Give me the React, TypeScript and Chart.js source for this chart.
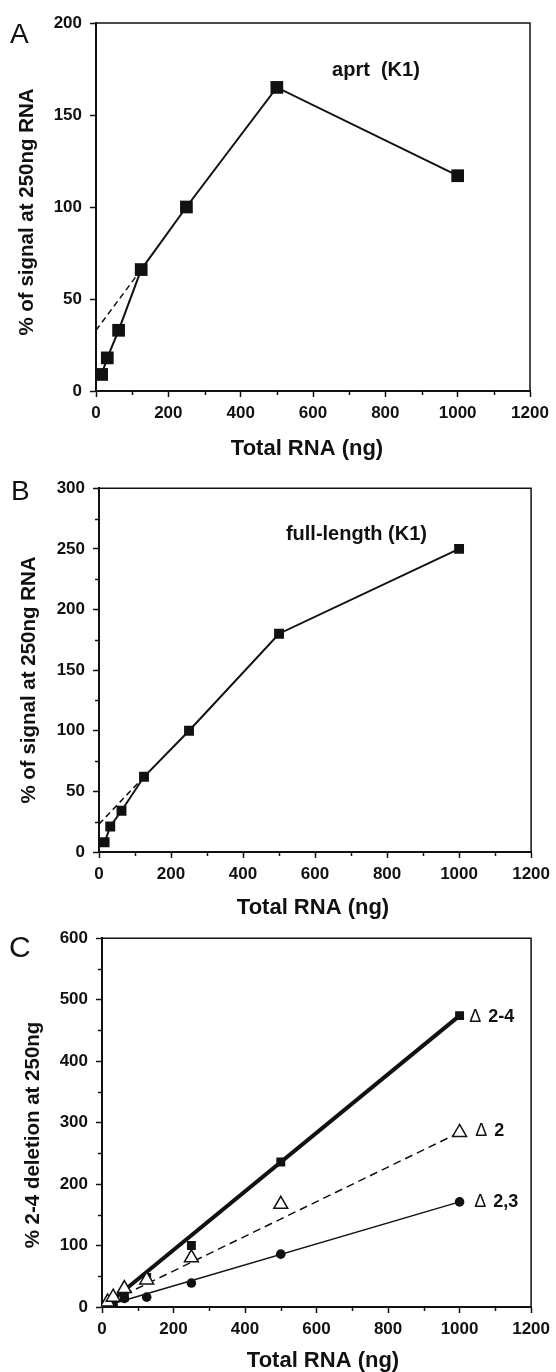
import React, { useEffect, useRef } from 'react';
import { Chart, registerables } from 'chart.js';

Chart.register(...registerables);

// ---------- data ----------
const rnaNg = [15.625, 31.25, 62.5, 125, 250, 500, 1000];

const aprtSignal = [9, 18, 33, 66, 100, 165, 117];
const aprtExtrapX = [0, 125];
const aprtExtrapY = [33, 66];

const fullSignal = [8, 21, 34, 62, 100, 180, 250];
const fullExtrapX = [0, 125];
const fullExtrapY = [23, 62];

const del24 = [4, 5, 16, 48, 100, 236, 474];
const del2 = [8, 16, 30, 44, 80, 167, 284];
const del23 = [3, 1, 14, 16, 39, 86, 171];
const fit24X = [15.625, 1000];
const fit24Y = [5, 474];
const fit2X = [62.5, 1000];
const fit2Y = [20, 284];
const fit23X = [15.625, 1000];
const fit23Y = [3, 171];

const xTickValues = [0, 100, 200, 300, 400, 500, 600, 700, 800, 900, 1000, 1100, 1200];
const xTickLabels = [0, 200, 400, 600, 800, 1000, 1200];
const yTicksA = [0, 50, 100, 150, 200];
const yLabelsA = [0, 50, 100, 150, 200];
const yTicksB = [0, 25, 50, 75, 100, 125, 150, 175, 200, 225, 250, 275, 300];
const yLabelsB = [0, 50, 100, 150, 200, 250, 300];
const yTicksC = [0, 50, 100, 150, 200, 250, 300, 350, 400, 450, 500, 550, 600];
const yLabelsC = [0, 100, 200, 300, 400, 500, 600];

const INK = '#111';
const FONT = "'Liberation Sans', Arial, Helvetica, sans-serif";

const pts = (xs: number[], ys: number[]) => xs.map((x, i) => ({ x, y: ys[i] }));

type Note = { x: number; y: number; align: 'center' | 'left'; delta?: boolean; text: string; size: number };

type Spec = {
  height: number;
  padTop: number;
  padRight: number;
  yAxisW: number;
  xAxisH: number;
  yMax: number;
  yTicks: number[];
  yLabels: number[];
  yTitle: string;
  yTitleX: number;
  yTitleY: number;
  xTitleX: number;
  xTitleY: number;
  datasets: any[];
  letter: string;
  letterX: number;
  letterY: number;
  letterSize: number;
  notes: Note[];
};

function decorPlugin(spec: Spec) {
  return {
    id: 'decor',
    afterDraw(chart: any) {
      const { ctx, chartArea: a } = chart;
      const xs = chart.scales.x;
      const ys = chart.scales.y;
      ctx.save();
      ctx.strokeStyle = INK;
      ctx.lineWidth = 1.5;
      ctx.beginPath();
      ctx.moveTo(a.left, a.top);
      ctx.lineTo(a.right, a.top);
      ctx.lineTo(a.right, a.bottom);
      ctx.stroke();
      // minor ticks
      xTickValues.filter((v) => !xTickLabels.includes(v)).forEach((v) => {
        const px = Math.round(xs.getPixelForValue(v)) + 0.5;
        ctx.beginPath();
        ctx.moveTo(px, a.bottom);
        ctx.lineTo(px, a.bottom + 4);
        ctx.stroke();
      });
      spec.yTicks.filter((v) => !spec.yLabels.includes(v)).forEach((v) => {
        const py = Math.round(ys.getPixelForValue(v)) + 0.5;
        ctx.beginPath();
        ctx.moveTo(a.left - 4, py);
        ctx.lineTo(a.left, py);
        ctx.stroke();
      });
      ctx.fillStyle = INK;
      // axis titles
      ctx.textAlign = 'center';
      ctx.textBaseline = 'middle';
      ctx.font = `bold 22px ${FONT}`;
      ctx.fillText('Total RNA (ng)', spec.xTitleX, spec.xTitleY);
      ctx.save();
      ctx.translate(spec.yTitleX, spec.yTitleY);
      ctx.rotate(-Math.PI / 2);
      ctx.font = `bold 20.5px ${FONT}`;
      ctx.fillText(spec.yTitle, 0, 0);
      ctx.restore();
      // panel letter
      ctx.font = `${spec.letterSize}px ${FONT}`;
      ctx.textAlign = 'left';
      ctx.textBaseline = 'alphabetic';
      ctx.fillText(spec.letter, spec.letterX, spec.letterY);
      // notes
      spec.notes.forEach((n) => {
        const px = xs.getPixelForValue(n.x);
        const py = ys.getPixelForValue(n.y);
        ctx.textBaseline = 'middle';
        if (n.delta) {
          ctx.textAlign = 'left';
          ctx.font = `${n.size}px ${FONT}`;
          ctx.fillText('Δ', px, py);
          const w = ctx.measureText('Δ ').width;
          ctx.font = `bold ${n.size}px ${FONT}`;
          ctx.fillText(n.text, px + w + 2, py);
        } else {
          ctx.textAlign = n.align;
          ctx.font = `bold ${n.size}px ${FONT}`;
          ctx.fillText(n.text, px, py);
        }
      });
      ctx.restore();
    },
  };
}

function makeConfig(spec: Spec): any {
  const tickFont = { family: FONT, size: 17, weight: 'bold' as const };
  return {
    type: 'scatter',
    data: { datasets: spec.datasets },
    plugins: [decorPlugin(spec)],
    options: {
      animation: false,
      responsive: false,
      devicePixelRatio: 1,
      layout: { padding: { top: spec.padTop, right: spec.padRight, left: 0, bottom: 0 } },
      plugins: { legend: { display: false }, tooltip: { enabled: false } },
      scales: {
        x: {
          type: 'linear',
          position: 'bottom',
          min: 0,
          max: 1200,
          afterBuildTicks: (s: any) => {
            s.ticks = xTickValues.map((v) => ({ value: v }));
          },
          afterFit: (s: any) => {
            s.height = spec.xAxisH;
          },
          ticks: {
            autoSkip: false,
            maxRotation: 0,
            minRotation: 0,
            padding: 6,
            color: INK,
            font: tickFont,
            callback: (v: number) => (xTickLabels.includes(v) ? String(v) : ''),
          },
          grid: {
            drawOnChartArea: false,
            drawTicks: true,
            tickLength: 6,
            tickWidth: 1.5,
            tickColor: (c: any) => (c.tick && xTickLabels.includes(c.tick.value) ? INK : 'rgba(0,0,0,0)'),
          },
          border: { display: true, color: INK, width: 2 },
          title: { display: false },
        },
        y: {
          type: 'linear',
          position: 'left',
          min: 0,
          max: spec.yMax,
          afterBuildTicks: (s: any) => {
            s.ticks = spec.yTicks.map((v) => ({ value: v }));
          },
          afterFit: (s: any) => {
            s.width = spec.yAxisW;
          },
          ticks: {
            autoSkip: false,
            padding: 8,
            color: INK,
            font: tickFont,
            callback: (v: number) => (spec.yLabels.includes(v) ? String(v) : ''),
          },
          grid: {
            drawOnChartArea: false,
            drawTicks: true,
            tickLength: 6,
            tickWidth: 1.5,
            tickColor: (c: any) => (c.tick && spec.yLabels.includes(c.tick.value) ? INK : 'rgba(0,0,0,0)'),
          },
          border: { display: true, color: INK, width: 2 },
          title: { display: false },
        },
      },
    },
  };
}

const lineDs = (label: string, xs: number[], ys: number[], extra: any = {}) => ({
  label,
  data: pts(xs, ys),
  showLine: true,
  borderColor: INK,
  borderWidth: 2,
  pointRadius: 0,
  fill: false,
  ...extra,
});

const specA: Spec = {
  height: 470,
  padTop: 23,
  padRight: 26,
  yAxisW: 96,
  xAxisH: 79,
  yMax: 200,
  yTicks: yTicksA,
  yLabels: yLabelsA,
  yTitle: '% of signal at 250ng RNA',
  yTitleX: 27.5,
  yTitleY: 212,
  xTitleX: 307,
  xTitleY: 449,
  letter: 'A',
  letterX: 10,
  letterY: 43,
  letterSize: 28,
  notes: [{ x: 774, y: 174, align: 'center', text: 'aprt  (K1)', size: 20 }],
  datasets: [
    lineDs('aprt (K1)', rnaNg, aprtSignal, {
      borderWidth: 2,
      pointStyle: 'rect',
      pointRadius: 9,
      pointBackgroundColor: INK,
      pointBorderWidth: 0,
      order: 1,
    }),
    lineDs('aprt extrapolation', aprtExtrapX, aprtExtrapY, { borderWidth: 1.5, borderDash: [6, 4], order: 2 }),
  ],
};

const specB: Spec = {
  height: 450,
  padTop: 13,
  padRight: 24,
  yAxisW: 99,
  xAxisH: 68,
  yMax: 300,
  yTicks: yTicksB,
  yLabels: yLabelsB,
  yTitle: '% of signal at 250ng RNA',
  yTitleX: 29,
  yTitleY: 210,
  xTitleX: 313,
  xTitleY: 438,
  letter: 'B',
  letterX: 11,
  letterY: 30,
  letterSize: 28,
  notes: [{ x: 715, y: 262, align: 'center', text: 'full-length (K1)', size: 20 }],
  datasets: [
    lineDs('full-length (K1)', rnaNg, fullSignal, {
      borderWidth: 2,
      pointStyle: 'rect',
      pointRadius: 7,
      pointBackgroundColor: INK,
      pointBorderWidth: 0,
      order: 1,
    }),
    lineDs('full-length extrapolation', fullExtrapX, fullExtrapY, { borderWidth: 1.5, borderDash: [6, 4], order: 2 }),
  ],
};

const specC: Spec = {
  height: 452,
  padTop: 17,
  padRight: 22,
  yAxisW: 102,
  xAxisH: 65,
  yMax: 600,
  yTicks: yTicksC,
  yLabels: yLabelsC,
  yTitle: '% 2-4 deletion at 250ng',
  yTitleX: 33.5,
  yTitleY: 215,
  xTitleX: 323,
  xTitleY: 441,
  letter: 'C',
  letterX: 9,
  letterY: 37,
  letterSize: 30,
  notes: [
    { x: 1027, y: 472, align: 'left', delta: true, text: '2-4', size: 18 },
    { x: 1044, y: 287, align: 'left', delta: true, text: '2', size: 18 },
    { x: 1041, y: 171, align: 'left', delta: true, text: '2,3', size: 18 },
  ],
  datasets: [
    {
      label: 'Δ 2',
      data: pts(rnaNg, del2),
      showLine: false,
      pointStyle: 'triangle',
      pointRadius: 8,
      pointBackgroundColor: '#fff',
      pointBorderColor: INK,
      pointBorderWidth: 1.5,
      order: 1,
    },
    {
      label: 'Δ 2-4',
      data: pts(rnaNg, del24),
      showLine: false,
      pointStyle: 'rect',
      pointRadius: 6.3,
      pointBackgroundColor: INK,
      pointBorderWidth: 0,
      order: 2,
    },
    {
      label: 'Δ 2,3',
      data: pts(rnaNg, del23),
      showLine: false,
      pointStyle: 'circle',
      pointRadius: 4.8,
      pointBackgroundColor: INK,
      pointBorderWidth: 0,
      order: 3,
    },
    lineDs('Δ 2-4 fit', fit24X, fit24Y, { borderWidth: 4, order: 5 }),
    lineDs('Δ 2 fit', fit2X, fit2Y, { borderWidth: 1.5, borderDash: [8, 5], order: 6 }),
    lineDs('Δ 2,3 fit', fit23X, fit23Y, { borderWidth: 1.5, order: 6 }),
  ],
};

function Panel({ spec, top }: { spec: Spec; top: number }) {
  const ref = useRef<HTMLCanvasElement>(null);
  useEffect(() => {
    const chart = new Chart(ref.current as HTMLCanvasElement, makeConfig(spec));
    return () => chart.destroy();
  }, [spec]);
  return (
    <canvas
      ref={ref}
      width={556}
      height={spec.height}
      style={{ position: 'absolute', left: 0, top, width: 556, height: spec.height }}
    />
  );
}

export default function App() {
  return (
    <div style={{ position: 'absolute', left: 0, top: 0, width: 556, height: 1372, background: '#fff', overflow: 'hidden' }}>
      <Panel spec={specA} top={0} />
      <Panel spec={specB} top={470} />
      <Panel spec={specC} top={920} />
    </div>
  );
}
